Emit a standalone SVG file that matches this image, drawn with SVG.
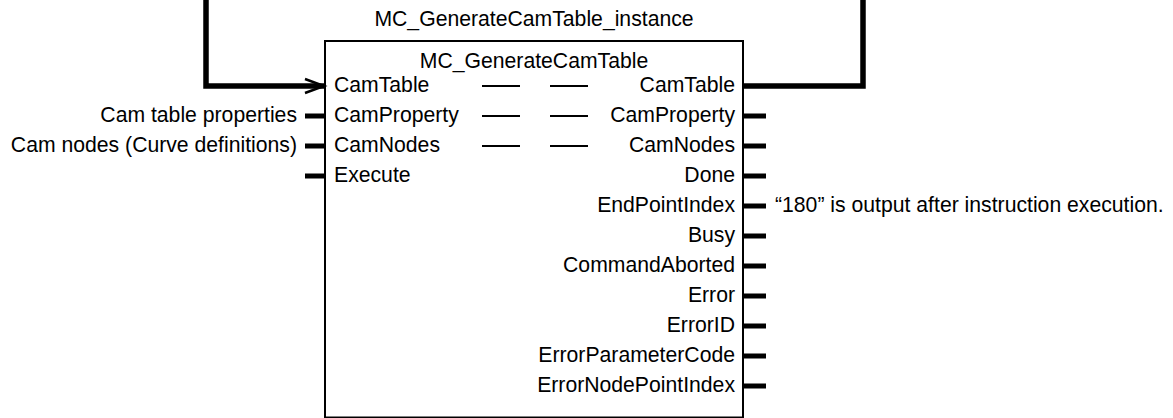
<svg xmlns="http://www.w3.org/2000/svg" width="1173" height="418" viewBox="0 0 1173 418">
<defs>
<style>
text{font-family:"Liberation Sans",Arial,sans-serif;font-size:21.2px;fill:#000}
.e{text-anchor:end}
.m{text-anchor:middle}
.stub{stroke:#000;stroke-width:5;fill:none}
.wire{stroke:#000;stroke-width:5.5;fill:none}
.dash{stroke:#000;stroke-width:2.2;fill:none}
</style>
</defs>
<rect width="1173" height="418" fill="#fff"/>
<g id="connectors">
<path class="wire" d="M206,0 V86 H324"/>
<path d="M305,79 L324,86 L305,93" fill="none" stroke="#000" stroke-width="2.5"/>
<path class="wire" d="M743,86 H863 V0"/>
</g>
<g id="fb">
<text class="m" x="534" y="26">MC_GenerateCamTable_instance</text>
<rect x="325" y="41" width="418" height="376.5" fill="none" stroke="#000" stroke-width="2"/>
<text class="m" x="534" y="68">MC_GenerateCamTable</text>
<g id="inputs">
<text x="334" y="92">CamTable</text>
<text x="334" y="122">CamProperty</text>
<text x="334" y="152">CamNodes</text>
<text x="334" y="182">Execute</text>
<path class="stub" d="M305,116 H325 M305,146 H325 M305,176 H325"/>
</g>
<g id="dashes">
<path class="dash" d="M482,86 H520 M550,86 H588 M482,116 H520 M550,116 H588 M482,146 H520 M550,146 H588"/>
</g>
<g id="outputs">
<text class="e" x="735" y="92">CamTable</text>
<text class="e" x="735" y="122">CamProperty</text>
<text class="e" x="735" y="152">CamNodes</text>
<text class="e" x="735" y="182">Done</text>
<text class="e" x="735" y="212">EndPointIndex</text>
<text class="e" x="735" y="242">Busy</text>
<text class="e" x="735" y="272">CommandAborted</text>
<text class="e" x="735" y="302">Error</text>
<text class="e" x="735" y="332">ErrorID</text>
<text class="e" x="735" y="362">ErrorParameterCode</text>
<text class="e" x="735" y="392">ErrorNodePointIndex</text>
<path class="stub" d="M743,116 H766 M743,146 H766 M743,176 H766 M743,206 H766 M743,236 H766 M743,266 H766 M743,296 H766 M743,326 H766 M743,356 H766 M743,386 H766"/>
</g>
</g>
<g id="labels">
<text class="e" x="297" y="122">Cam table properties</text>
<text class="e" x="297" y="152">Cam nodes (Curve definitions)</text>
<text x="775" y="212">“180” is output after instruction execution.</text>
</g>
</svg>
